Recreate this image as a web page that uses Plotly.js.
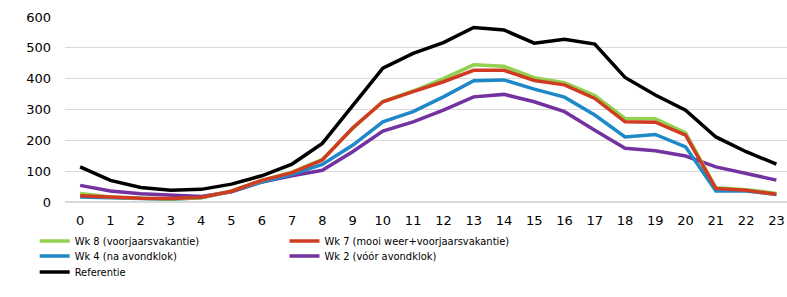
<!DOCTYPE html>
<html>
<head>
<meta charset="utf-8">
<script src="https://cdn.plot.ly/plotly-3.0.1.min.js"></script>
<style>html,body{margin:0;padding:0;background:#fff}#chart{width:787px;height:297px}</style>
</head>
<body>
<div id="chart"></div>
<script>
var hours = [0,1,2,3,4,5,6,7,8,9,10,11,12,13,14,15,16,17,18,19,20,21,22,23];
var hourLabels = hours.map(String);

var wk8 = [28,16,12,10,14,36,70,97,138,238,326,360,400,445,440,403,387,345,271,270,224,46,40,28];
var wk7 = [20,15,12,11,15,35,70,95,136,240,325,358,390,427,427,394,380,336,260,259,217,44,38,25];
var wk4 = [16,14,11,9,14,35,65,90,122,184,260,293,341,393,396,366,340,282,211,219,179,36,36,24];
var wk2 = [54,36,27,22,18,33,65,85,103,163,230,260,298,341,349,325,293,233,174,166,149,114,92,71];
var ref = [114,70,47,38,41,58,85,123,190,314,434,482,517,566,558,515,528,512,404,347,298,211,163,123];

var names = ['Wk 8 (voorjaarsvakantie)','Wk 7 (mooi weer+voorjaarsvakantie)','Wk 4 (na avondklok)','Wk 2 (vóór avondklok)','Referentie'];
var colors = ['#92D050','#D13B22','#1E88C8','#7432A0','#000000'];
var legendOf = ['legend','legend2','legend3','legend4','legend5'];
var series = [wk8, wk7, wk4, wk2, ref];

var traces = series.map(function(s, i){
  return {x: hours, y: s, name: names[i], type: 'scatter', mode: 'lines',
          legend: legendOf[i],
          line: {color: colors[i], width: 3.5}};
});
var drawOrder = [4,3,2,0,1];
var data = drawOrder.map(function(i){ return traces[i]; });

var legFont = {family: 'DejaVu Sans Condensed', size: 11, color: '#000'};
function leg(x, y){
  return {orientation: 'v', x: x, xanchor: 'left', y: y, yanchor: 'middle',
          itemwidth: 30, font: legFont, bgcolor: 'rgba(0,0,0,0)'};
}
var colX = [-0.042, 0.304];
var rowY = [-0.211, -0.292, -0.378];

var layout = {
  width: 787, height: 297,
  margin: {l: 65, r: 0, t: 17, b: 95},
  paper_bgcolor: '#fff', plot_bgcolor: '#fff',
  font: {family: 'DejaVu Sans', size: 13, color: '#000'},
  xaxis: {range: [-0.5, 23.35], tickmode: 'array', tickvals: hours, ticktext: hourLabels,
          showgrid: false, zeroline: false, showline: false, ticks: '',
          ticklabelstandoff: 9,
          tickfont: {family: 'DejaVu Sans', size: 13}, fixedrange: true},
  yaxis: {range: [0, 600], dtick: 100, showgrid: true, gridcolor: '#d9d9d9', gridwidth: 1,
          zeroline: true, zerolinecolor: '#d9d9d9', zerolinewidth: 1.5, showline: false, ticks: '',
          ticklabelstandoff: 13, tickfont: {family: 'DejaVu Sans', size: 13}, fixedrange: true},
  showlegend: true,
  legend: leg(colX[0], rowY[0]),
  legend2: leg(colX[1], rowY[0]),
  legend3: leg(colX[0], rowY[1]),
  legend4: leg(colX[1], rowY[1]),
  legend5: leg(colX[0], rowY[2])
};

Plotly.newPlot('chart', data, layout, {displayModeBar: false, staticPlot: true});
</script>
</body>
</html>
